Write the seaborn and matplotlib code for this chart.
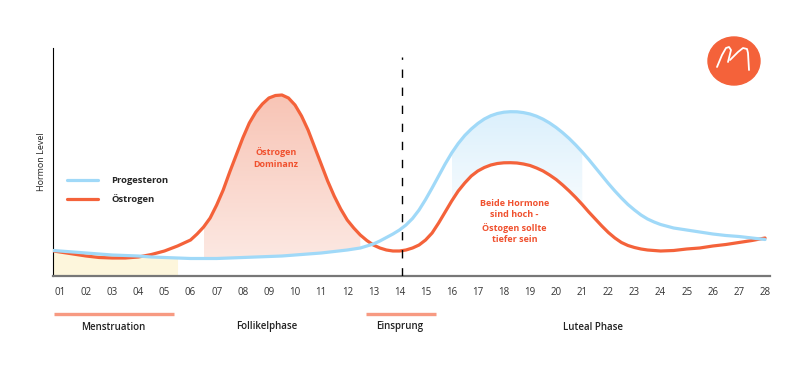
import numpy as np
import matplotlib
matplotlib.use("Agg")
import matplotlib.pyplot as plt
from matplotlib.colors import LinearSegmentedColormap
from matplotlib.patches import Ellipse
from matplotlib.lines import Line2D
import seaborn as sns

# cycle days: half-day steps on the flat parts, quarter-day steps where the curves bend
days = np.concatenate([[0.75], np.arange(1, 6, 0.5), np.arange(6, 24, 0.25),
                       np.arange(24, 28.5, 0.5)])

estrogen = [25,
            24, 22, 20, 18.5, 18, 18, 19, 21.5, 25, 30,          # 1 - 5.5
            36, 42, 49, 58, 71, 86, 104, 121,                    # 6 - 7.75
            138, 153, 164, 172, 178, 180.5, 181, 178,            # 8 - 9.75
            171, 160, 146, 129, 112, 95, 80, 67,                 # 10 - 11.75
            56, 48, 41, 35.5, 31, 28, 26, 25,                    # 12 - 13.75
            25, 26, 28, 31, 36, 43, 53, 64,                      # 14 - 15.75
            75, 85, 93, 100, 105, 108.5, 111, 112.5,             # 16 - 17.75
            113.2, 113.3, 113, 112, 110.5, 108, 105, 101,        # 18 - 19.75
            96.5, 91, 85, 78.5, 71.5, 64, 57, 50,                # 20 - 21.75
            43.5, 38, 33.5, 30.5, 28.5, 27, 26, 25.5,            # 22 - 23.75
            25, 25.5, 27, 28, 30, 31.5, 33.5, 35.5, 38]          # 24 - 28

progesteron = [25.5,
               25, 24, 23, 22, 21, 20.5, 20, 19, 18.5, 18,
               17.5, 17.5, 17.5, 17.5, 17.5, 17.75, 18, 18.25,
               18.5, 18.75, 19, 19.25, 19.5, 19.75, 20, 20.5,
               21, 21.5, 22, 22.5, 23, 23.75, 24.5, 25.25,
               26, 27, 28, 30, 32, 35, 38.5, 42,
               46, 51, 57.5, 66, 76.5, 88, 100, 112,
               123, 132.5, 140.5, 147, 152.5, 157, 160.3, 162.5,
               163.8, 164.3, 164.2, 163.4, 162, 159.8, 156.8, 153,
               148.5, 143.3, 137.5, 131, 124, 116.5, 108.5, 100.5,
               92.5, 85, 78, 71.5, 66, 61, 57, 54,
               51.5, 48, 46, 44, 42, 40.5, 39.5, 38, 36.5]

tick_days = list(range(1, 29))
tick_labels = [f"{i:02d}" for i in tick_days]

ovulation_day = 14.1

phase_labels = ["Menstruation", "Follikelphase", "Einsprung", "Luteal Phase"]
phase_centers = [3.03, 8.9, 14.0, 21.4]
bar_starts = [0.77, 12.7]
bar_ends = [5.37, 15.4]

ORANGE = "#f4623a"
BLUE = "#a0d9f8"
TEXT_RED = "#f0512f"

sns.set_theme(style="white")
plt.rcParams["font.family"] = ["Open Sans", "DejaVu Sans"]

fig = plt.figure(figsize=(8, 3.69), dpi=100)
ax = fig.add_axes([53 / 800, 1 - 276 / 369, 717 / 800, 228 / 369])

d = np.asarray(days)
e = np.array(estrogen)
p = np.array(progesteron)

# menstruation background
ax.fill_between(d, 0, p, where=d <= 5.5, color="#fdf6dc", lw=0, zorder=1)


def gradient_fill(mask, lo, hi, c_bottom, c_top):
    poly = ax.fill_between(d, lo, hi, where=mask, facecolor="none", lw=0)
    cmap = LinearSegmentedColormap.from_list("g", [c_bottom, c_top])
    y0 = min(lo[mask].min(), hi[mask].min())
    y1 = max(lo[mask].max(), hi[mask].max())
    img = ax.imshow(np.linspace(0, 1, 256).reshape(-1, 1),
                    extent=[d[mask].min(), d[mask].max(), y0, y1],
                    origin="lower", cmap=cmap, aspect="auto", zorder=1,
                    interpolation="bilinear")
    img.set_clip_path(poly.get_paths()[0], transform=ax.transData)


gradient_fill((d >= 6.5) & (d <= 12.5), p, e, "#fce8e2", "#f8c4b5")
gradient_fill((d >= 16) & (d <= 21), e, p, "#f6fbfe", "#dbf0fc")

sns.lineplot(x=d, y=e, color=ORANGE, lw=2.3, ax=ax, label="Östrogen", zorder=3,
             solid_joinstyle="round", solid_capstyle="round")
sns.lineplot(x=d, y=p, color=BLUE, lw=2.3, ax=ax, label="Progesteron", zorder=4,
             solid_joinstyle="round", solid_capstyle="round")

ax.axvline(ovulation_day, ymin=0, ymax=219 / 228, color="black", lw=1.0,
           ls=(0, (6, 7)), zorder=5)

ax.set_xlim(0.732, 28.19)
ax.set_ylim(0, 228)

sns.despine(ax=ax)
ax.spines["left"].set_color("black")
ax.spines["left"].set_linewidth(0.8)
ax.spines["bottom"].set_color("#777777")
ax.spines["bottom"].set_linewidth(1.6)

ax.set_xticks(tick_days)
ax.set_xticklabels(tick_labels, fontsize=7, color="#333333")
ax.tick_params(axis="x", length=0, pad=8)
ax.set_yticks([])
ax.set_xlabel("")
ax.set_ylabel("Hormon Level", fontsize=6.5, color="#222222", labelpad=5)

handles, labels = ax.get_legend_handles_labels()
order = [labels.index("Progesteron"), labels.index("Östrogen")]
ax.legend([handles[i] for i in order], [labels[i] for i in order],
          loc="center left", bbox_to_anchor=(0.0195, 86 / 228), frameon=False,
          borderpad=0, borderaxespad=0, handlelength=3.3, handletextpad=1.4,
          labelspacing=1.0, prop={"size": 6.8, "weight": "bold"})

# phases below the axis
xt = ax.get_xaxis_transform()
for s, t in zip(bar_starts, bar_ends):
    ax.plot([s, t], [-38 / 228, -38 / 228], color="#f79a82", lw=2.4,
            transform=xt, clip_on=False, solid_capstyle="butt")
for c, lab in zip(phase_centers, phase_labels):
    ax.text(c, -51 / 228, lab, transform=xt, ha="center", va="center",
            fontsize=7, color="#222222", fontweight="semibold")

ax.text(9.27, 118, "Östrogen\nDominanz", ha="center", va="center",
        fontsize=6.5, color=TEXT_RED, fontweight="bold", linespacing=1.4)
ax.text(18.4, 54.5, "Beide Hormone\nsind hoch -\nÖstogen sollte\ntiefer sein",
        ha="center", va="center", fontsize=6.5, color=TEXT_RED,
        fontweight="bold", linespacing=1.4)


# logo
def fx(x):
    return x / 800


def fy(y):
    return 1 - y / 369


fig.patches.append(Ellipse((fx(734), fy(61)), 52 / 800, 48 / 369,
                           transform=fig.transFigure, color=ORANGE))
m1 = [(717, 67), (722, 55), (726, 48), (729, 47), (731, 50), (728, 62)]
m2 = [(730, 60), (738, 52), (743, 48), (747, 49), (748, 53), (749, 70)]
for pts in (m1, m2):
    fig.add_artist(Line2D([fx(a) for a, b in pts], [fy(b) for a, b in pts],
                          transform=fig.transFigure, color="white", lw=1.3,
                          solid_capstyle="round"))

fig.savefig("out.png", dpi=100)
